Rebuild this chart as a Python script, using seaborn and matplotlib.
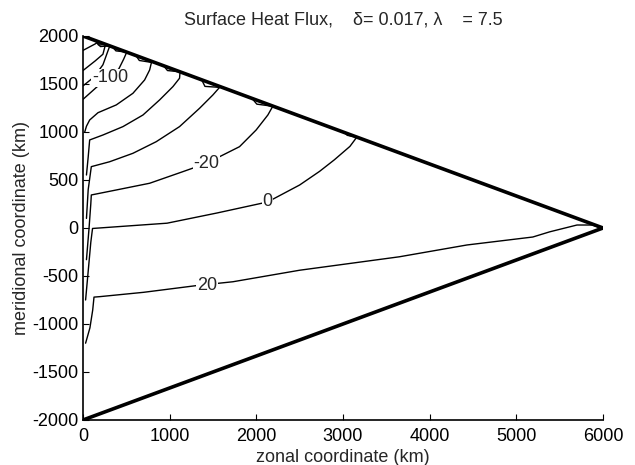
import pandas as pd
import matplotlib
matplotlib.use("Agg")
import matplotlib.pyplot as plt
import seaborn as sns

# domain edges (km)
edge_x = [0, 6000, 0]
edge_y = [2000, 0, -2000]

# contour lines of surface heat flux (km)
c20_x = [30, 80, 112, 127, 196, 700, 1310, 1730, 2500, 3650, 4430, 5190, 5385, 5700, 5880, 5985]
c20_y = [-1200, -1040, -855, -720, -715, -670, -600, -560, -440, -300, -177, -94, -40, 31, 31, -5]

c0_x = [30, 60, 90, 110, 500, 970, 1545, 2130, 2500, 2730, 2900, 3080, 3160, 3050, 3020]
c0_y = [-750, -450, -150, -5, 20, 50, 156, 271, 448, 590, 710, 850, 947, 965, 993]

cm20_x = [40, 70, 90, 96, 384, 769, 1153, 1422, 1806, 1998, 2133, 2190, 2006, 1950]
cm20_y = [-330, 0, 250, 344, 396, 466, 587, 673, 847, 1021, 1177, 1268, 1290, 1350]

cm40_x = [40, 60, 96, 307, 576, 845, 1114, 1345, 1499, 1576, 1407, 1370]
cm40_y = [100, 400, 639, 690, 778, 899, 1056, 1247, 1386, 1465, 1475, 1543]

cm60_x = [40, 60, 77, 231, 461, 692, 884, 1038, 1114, 1120, 975, 930]
cm60_y = [552, 740, 917, 969, 1056, 1177, 1334, 1473, 1560, 1627, 1640, 1690]

cm80_x = [20, 40, 77, 173, 384, 576, 711, 769, 790, 650, 610]
cm80_y = [1000, 1060, 1125, 1201, 1282, 1403, 1542, 1646, 1725, 1745, 1797]

cm100_x = [0, 160, 310, 415, 470, 505, 380, 340]
cm100_y = [1340, 1469, 1560, 1660, 1760, 1832, 1845, 1887]

cm120_x = [0, 127, 230, 290, 310, 200, 150]
cm120_y = [1480, 1573, 1700, 1850, 1897, 1890, 1950]

cm140_x = [0, 140, 230, 260, 180, 140]
cm140_y = [1640, 1740, 1810, 1913, 1905, 1953]

cm160_x = [0, 140, 180, 100]
cm160_y = [1850, 1917, 1940, 1967]

levels = [20, 0, -20, -40, -60, -80, -100, -120, -140, -160]
lines_x = [c20_x, c0_x, cm20_x, cm40_x, cm60_x, cm80_x, cm100_x, cm120_x, cm140_x, cm160_x]
lines_y = [c20_y, c0_y, cm20_y, cm40_y, cm60_y, cm80_y, cm100_y, cm120_y, cm140_y, cm160_y]

# where the contour labels sit
label_text = ["-100", "-20", "0", "20"]
label_x = [310, 1422, 2130, 1430]
label_y = [1565, 673, 271, -595]

rows = []
for lev, xs, ys in zip(levels, lines_x, lines_y):
    for i, (a, b) in enumerate(zip(xs, ys)):
        rows.append({"level": lev, "order": i, "x": a, "y": b})
df = pd.DataFrame(rows)
edge = pd.DataFrame({"x": edge_x, "y": edge_y, "k": 0})

sns.set_style("ticks")
plt.rcParams["font.family"] = ["Liberation Sans", "DejaVu Sans"]
plt.rcParams["axes.unicode_minus"] = False

fig = plt.figure(figsize=(6.35, 4.65), dpi=100)
ax = fig.add_axes([0.1307, 0.0968, 0.8189, 0.8258])

sns.lineplot(data=df, x="x", y="y", units="level", estimator=None, sort=False,
             color="black", lw=1.0, ax=ax, legend=False)
sns.lineplot(data=edge, x="x", y="y", units="k", estimator=None, sort=False,
             color="black", lw=2.6, ax=ax, legend=False)

for t, x, y in zip(label_text, label_x, label_y):
    ax.text(x, y, t, fontsize=13, ha="center", va="center",
            bbox=dict(facecolor="white", edgecolor="none", pad=0.5))

ax.set_xlim(0, 6000)
ax.set_ylim(-2000, 2000)
ax.set_xticks(range(0, 6001, 1000))
ax.set_yticks(range(-2000, 2001, 500))
ax.tick_params(direction="in", length=4, width=0.8, labelsize=13, colors="black", pad=3)
ax.tick_params(axis="x", pad=6)
sns.despine(ax=ax)
for s in ["left", "bottom"]:
    ax.spines[s].set_linewidth(1.2)
    ax.spines[s].set_color("black")

ax.set_xlabel("zonal coordinate (km)", fontsize=13, labelpad=3)
ax.set_ylabel("meridional coordinate (km)", fontsize=13, labelpad=2)
ax.set_title("Surface Heat Flux,    \u03b4= 0.017, \u03bb    = 7.5", fontsize=13, pad=8)

fig.savefig("out.png", dpi=100)
